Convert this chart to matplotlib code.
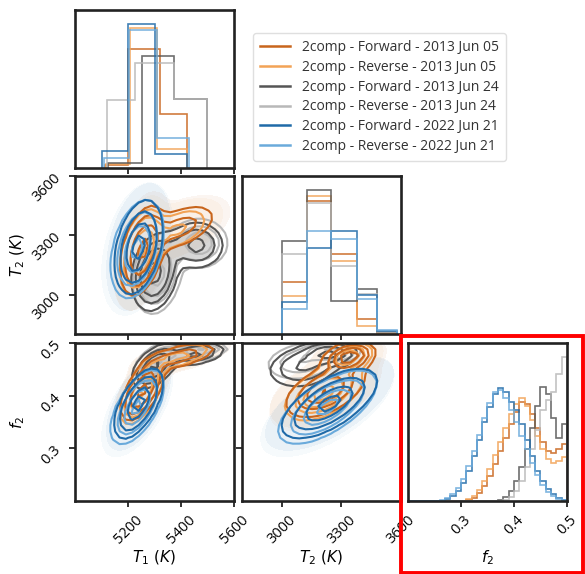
import numpy as np
import matplotlib
matplotlib.use("Agg")
import matplotlib.pyplot as plt
from matplotlib.lines import Line2D
from matplotlib.patches import Rectangle

labels = [
    "2comp - Forward - 2013 Jun 05",
    "2comp - Reverse - 2013 Jun 05",
    "2comp - Forward - 2013 Jun 24",
    "2comp - Reverse - 2013 Jun 24",
    "2comp - Forward - 2022 Jun 21",
    "2comp - Reverse - 2022 Jun 21",
]

# marginal histograms (bin edges, counts) per run
t1_edges = [
    [5113, 5199, 5319, 5424],
    [5116, 5206, 5311, 5424],
    [5124, 5251, 5375, 5499],
    [5120, 5225, 5375, 5499],
    [5101, 5199, 5300, 5424],
    [5109, 5203, 5308, 5431],
]
t1_counts = [
    [3, 119, 54],
    [4, 140, 19],
    [5, 112, 69],
    [68, 105, 69],
    [17, 144, 14],
    [10, 138, 30],
]

t2_edges = [3000, 3125, 3250, 3380, 3480, 3580]
t2_counts = [
    [52, 132, 80, 15, 1],
    [38, 137, 73, 8, 1],
    [93, 143, 33, 45, 2],
    [80, 130, 68, 40, 2],
    [32, 86, 103, 39, 3],
    [25, 103, 95, 35, 4],
]

f2_edges = np.round(np.arange(0.20, 0.5001, 0.01), 2)
f2_counts = [
    [0, 0, 0, 0, 0, 0, 0, 0, 0, 0, 0, 1, 3, 8, 15, 25, 37, 50, 64, 78,
     90, 100, 98, 88, 74, 60, 50, 48, 52, 58],
    [0, 0, 0, 0, 0, 0, 0, 0, 0, 0, 0, 2, 5, 11, 20, 32, 46, 60, 74, 88,
     98, 104, 96, 82, 66, 52, 42, 38, 40, 44],
    [0, 0, 0, 0, 0, 0, 0, 0, 0, 0, 0, 0, 0, 0, 0, 0, 0, 1, 4, 10,
     20, 34, 52, 74, 96, 115, 108, 84, 64, 78],
    [0, 0, 0, 0, 0, 0, 0, 0, 0, 0, 0, 0, 0, 0, 0, 0, 0, 0, 1, 4,
     10, 20, 34, 52, 72, 92, 102, 110, 128, 145],
    [0, 0, 0, 0, 0, 0, 0, 2, 5, 10, 18, 30, 45, 62, 80, 95, 108, 114, 110, 100,
     92, 78, 62, 45, 30, 20, 12, 7, 3, 1],
    [0, 0, 0, 0, 0, 0, 1, 3, 7, 13, 22, 35, 50, 67, 84, 99, 110, 112, 104, 92,
     80, 66, 52, 38, 26, 16, 9, 5, 2, 1],
]

# posterior summary as gaussian components: run index, means (T1, T2, f2),
# widths, correlations (T1-T2, T1-f2, T2-f2), weights
comp_run = [0, 0, 1, 1, 2, 2, 3, 3, 4, 5]
comp_mean = [
    [5255, 3220, 0.410], [5400, 3340, 0.475],
    [5250, 3210, 0.405], [5390, 3330, 0.475],
    [5300, 3110, 0.455], [5460, 3250, 0.480],
    [5310, 3100, 0.465], [5470, 3260, 0.485],
    [5240, 3240, 0.385],
    [5235, 3230, 0.378],
]
comp_std = [
    [40, 110, 0.028], [80, 70, 0.015],
    [38, 105, 0.028], [75, 70, 0.015],
    [45, 100, 0.022], [60, 70, 0.012],
    [48, 105, 0.020], [60, 70, 0.010],
    [45, 120, 0.033],
    [50, 125, 0.035],
]
comp_corr = [
    [0.4, 0.6, 0.5], [0.5, 0.6, 0.3],
    [0.4, 0.6, 0.5], [0.5, 0.6, 0.3],
    [0.2, 0.5, 0.2], [0.0, 0.3, 0.0],
    [0.2, 0.5, 0.2], [0.0, 0.3, 0.0],
    [0.35, 0.6, 0.65],
    [0.35, 0.6, 0.65],
]
comp_weight = [0.7, 0.3, 0.75, 0.25, 0.65, 0.35, 0.6, 0.4, 1.0, 1.0]

param_range = [(5000, 5600), (2800, 3600), (0.2, 0.5)]
param_ticks = [[5200, 5400, 5600], [3000, 3300, 3600], [0.3, 0.4, 0.5]]
param_ticklabels = [["5200", "5400", "5600"], ["3000", "3300", "3600"],
                    ["0.3", "0.4", "0.5"]]
param_names = [r"$T_1\ (K)$", r"$T_2\ (K)$", r"$f_2$"]

colors = ["#c8651c", "#f2a356", "#555555", "#b8b8b8", "#1f6aa8", "#6aaadb"]
haze_runs = [0, 1, 4, 5]

plt.rcParams["font.family"] = ["Open Sans", "DejaVu Sans"]
plt.rcParams["mathtext.fontset"] = "dejavusans"

W, H = 585, 574
fig = plt.figure(figsize=(W / 100, H / 100), dpi=100)


def panel(col, row):
    lefts = [75, 242, 408]
    tops = [10, 176, 343]
    ax = fig.add_axes([lefts[col] / W, 1 - (tops[row] + 158) / H, 159 / W, 158 / H])
    for s in ax.spines.values():
        s.set_linewidth(1.9)
        s.set_color("#222222")
    ax.tick_params(width=1.3, length=4.5, labelsize=10.5, color="#222222")
    return ax


def density(run, i, j, X, Y):
    pair = {(0, 1): 0, (0, 2): 1, (1, 2): 2}[(i, j)]
    D = np.zeros_like(X)
    for k, r in enumerate(comp_run):
        if r != run:
            continue
        mx, my = comp_mean[k][i], comp_mean[k][j]
        sx, sy = comp_std[k][i], comp_std[k][j]
        rho = comp_corr[k][pair]
        dx, dy = (X - mx) / sx, (Y - my) / sy
        z = (dx ** 2 - 2 * rho * dx * dy + dy ** 2) / (1 - rho ** 2)
        D += comp_weight[k] * np.exp(-0.5 * z) / (sx * sy * np.sqrt(1 - rho ** 2))
    return D


def sigma_levels(D):
    flat = np.sort(D.ravel())[::-1]
    cum = np.cumsum(flat)
    cum /= cum[-1]
    V = []
    for p in 1 - np.exp(-0.5 * np.array([0.5, 1.0, 1.5, 2.0]) ** 2):
        V.append(flat[cum <= p][-1] if np.any(cum <= p) else flat[0])
    return np.unique(V)


def style_ticks(ax, i, j, show_x, show_y):
    ax.set_xlim(param_range[i])
    ax.set_xticks(param_ticks[i])
    if show_x:
        ax.set_xticklabels(param_ticklabels[i], rotation=45)
        ax.set_xlabel(param_names[i], fontsize=11)
        ax.xaxis.set_label_coords(0.5, -0.3)
    else:
        ax.set_xticklabels([])
    if j is None:
        ax.set_yticks([])
        return
    ax.set_ylim(param_range[j])
    ax.set_yticks(param_ticks[j])
    if show_y:
        ax.set_yticklabels(param_ticklabels[j], rotation=45)
        ax.set_ylabel(param_names[j], fontsize=11)
        ax.yaxis.set_label_coords(-0.3, 0.5)
    else:
        ax.set_yticklabels([])


# diagonal histograms
hist_data = [(t1_edges, t1_counts), (None, t2_counts), (None, f2_counts)]
for p, (edges, counts) in enumerate(hist_data):
    ax = panel(p, p)
    top = 0
    for r in range(len(labels)):
        if p == 0:
            e = edges[r]
        elif p == 1:
            e = t2_edges
        else:
            e = f2_edges
        ax.stairs(counts[r], e, color=colors[r], lw=1.2, alpha=0.85)
        top = max(top, max(counts[r]))
    ax.set_ylim(0, 1.1 * top)
    style_ticks(ax, p, None, p == 2, False)

# 2d contour panels
for i, j in [(0, 1), (0, 2), (1, 2)]:
    ax = panel(i, j)
    xs = np.linspace(*param_range[i], 26)
    ys = np.linspace(*param_range[j], 26)
    X, Y = np.meshgrid(xs, ys)
    xf = np.linspace(*param_range[i], 120)
    yf = np.linspace(*param_range[j], 120)
    XF, YF = np.meshgrid(xf, yf)
    for r in haze_runs:
        DF = density(r, i, j, XF, YF)
        lev = sigma_levels(DF)
        ax.contourf(XF, YF, DF, levels=[lev[0] * 0.2, DF.max() * 2],
                    colors=[colors[r]], alpha=0.06)
    if i == 0:
        DG = density(2, i, j, X, Y)
        lev = sigma_levels(DG)
        ax.contourf(X, Y, DG, levels=[lev[1], DG.max() * 2],
                    colors=["#bdbdbd"], alpha=0.6)
    for r in [3, 2, 1, 0, 5, 4]:
        D = density(r, i, j, X, Y)
        ax.contour(X, Y, D, levels=sigma_levels(D), colors=[colors[r]],
                   linewidths=1.5)
    style_ticks(ax, i, j, j == 2, i == 0)

handles = [Line2D([], [], color=c, lw=1.8) for c in colors]
fig.legend(handles, labels, loc="upper left", bbox_to_anchor=(246 / W, 1 - 26 / H),
           fontsize=10, frameon=True, edgecolor="#d8d8d8", labelspacing=0.35,
           handlelength=2.2, borderpad=0.5, labelcolor="#333333")

fig.patches.append(Rectangle((401 / W, 1 - 573 / H), 182 / W, 237 / H,
                             transform=fig.transFigure, fill=False,
                             edgecolor="#ff0000", lw=2.8))

fig.savefig("out.png", dpi=100)
